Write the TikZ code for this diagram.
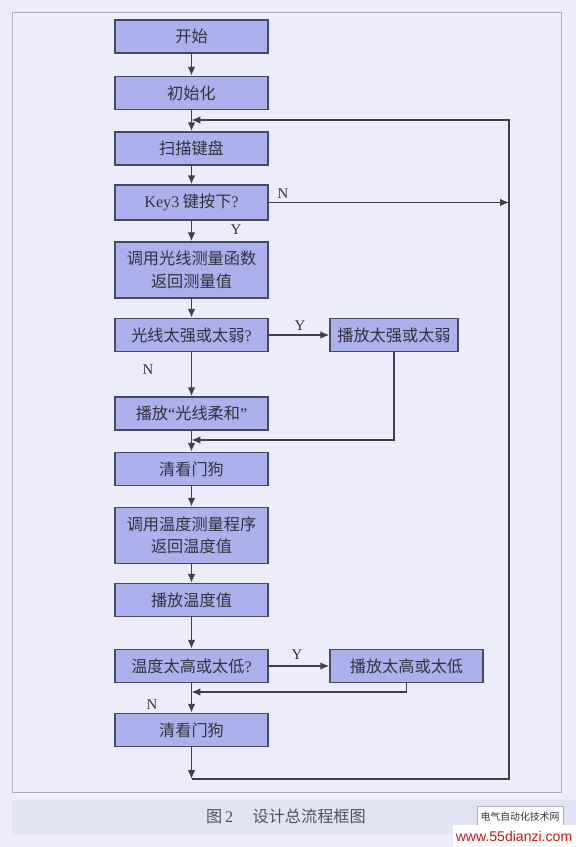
\documentclass[tikz,border=0pt]{standalone}
\usepackage{fontspec}
\setmainfont{Liberation Serif}
\newfontfamily\cjk{Noto Sans CJK SC}
\newfontfamily\websans{Liberation Sans}
\usetikzlibrary{arrows.meta,positioning}
\definecolor{pagebg}{RGB}{236,236,250}
\definecolor{bandblue}{RGB}{226,228,246}
\definecolor{boxfill}{RGB}{172,176,236}
\definecolor{boxline}{RGB}{70,72,104}
\definecolor{flowline}{RGB}{62,62,80}
\definecolor{textgray}{RGB}{50,50,60}
\definecolor{framegray}{RGB}{178,174,184}
\definecolor{markred}{RGB}{205,25,25}
\tikzset{
  procbox/.style={draw=boxline, line width=1.2pt, fill=boxfill, text=textgray,
    minimum width=3.825cm, minimum height=0.825cm, inner sep=0pt, align=center,
    font=\cjk\fontsize{11.5}{16}\selectfont},
  tallbox/.style={procbox, minimum height=1.4cm},
  flow/.style={draw=flowline, line width=1pt, -{Latex[length=2.2mm,width=1.9mm]}},
  ynlabel/.style={text=textgray, font=\fontsize{10.5}{12}\selectfont}
}

\begin{document}
\begin{tikzpicture}[x=0.025cm,y=-0.025cm]
  % Page and frame
  \fill[pagebg] (0,0) rectangle (576,847);
  \useasboundingbox (0,0) rectangle (576,847);
  \draw[framegray, line width=0.6pt] (12,12) rectangle (561,792);
  \fill[bandblue] (12,800) rectangle (576,834);

  % Main column
  \node[procbox] (start) at (191.5,36.5) {开始};
  \node[procbox] (init)  at (191.5,93)   {初始化};
  \node[procbox] (scan)  at (191.5,148.5) {扫描键盘};
  \node[procbox, minimum height=0.875cm] (key3) at (191.5,202.5) {\textrm{Key3} 键按下\textrm{?}};
  \node[tallbox] (lightmeas) at (191.5,270) {调用光线测量函数\\返回测量值};
  \node[procbox] (lightq) at (191.5,335) {光线太强或太弱\textrm{?}};
  \node[procbox] (lightok) at (191.5,413.5) {播放\textrm{“}光线柔和\textrm{”}};
  \node[procbox] (wdog1) at (191.5,469) {清看门狗};
  \node[tallbox] (tempmeas) at (191.5,535.5) {调用温度测量程序\\返回温度值};
  \node[procbox] (tempplay) at (191.5,600) {播放温度值};
  \node[procbox] (tempq) at (191.5,666) {温度太高或太低\textrm{?}};
  \node[procbox] (wdog2) at (191.5,730) {清看门狗};

  % Side boxes
  \node[procbox, minimum width=3.2cm] (lightbad) at (394,335) {播放太强或太弱};
  \node[procbox] (tempbad) at (406.5,666) {播放太高或太低};

  % Junctions
  \coordinate (joinscan) at (191.5,120);
  \coordinate (joinlight) at (191.5,440);
  \coordinate (jointemp) at (191.5,692);
  \coordinate (loopbot) at (191.5,779);
  \coordinate (loopright) at (509,779);
  \coordinate (looptop) at (509,120);

  % Arrows down the main column
  \draw[flow] (start) -- (init);
  \draw[flow] (init) -- (scan);
  \draw[flow] (scan) -- (key3);
  \draw[flow] (key3) -- (lightmeas);
  \draw[flow] (lightmeas) -- (lightq);
  \draw[flow] (lightq) -- (lightok);
  \draw[flow] (lightok) -- (wdog1);
  \draw[flow] (wdog1) -- (tempmeas);
  \draw[flow] (tempmeas) -- (tempplay);
  \draw[flow] (tempplay) -- (tempq);
  \draw[flow] (tempq) -- (wdog2);
  \draw[flow] (wdog2) -- (loopbot);

  % Branches
  \draw[flow] (lightq) -- (lightbad);
  \draw[flow] (lightbad.south) |- (joinlight);
  \draw[flow] (tempq) -- (tempbad);
  \draw[flow] (tempbad.south) |- (jointemp);
  \draw[flow] (key3.east) -- (key3.east -| looptop);
  \draw[flow] (loopbot) -- (loopright) -- (looptop) -- (joinscan);

  % Y / N labels
  \node[ynlabel] (ykey) at (236,230) {Y};
  \node[ynlabel] (nkey) at (283,194) {N};
  \node[ynlabel] (ylight) at (300,326) {Y};
  \node[ynlabel] (nlight) at (148,370) {N};
  \node[ynlabel] (ytemp) at (297,655) {Y};
  \node[ynlabel] (ntemp) at (152,705) {N};

  % Caption
  \node[text=textgray!85, font=\cjk\fontsize{11.5}{14}\selectfont] (caption) at (286,816)
    {图\,\textrm{2}\hspace{1.2em}设计总流程框图};

  % Site mark
  \draw[fill=white, draw=framegray, line width=0.4pt] (477,806) rectangle (563,826);
  \fill[white] (453,825) rectangle (576,847);
  \node[text=textgray, font=\cjk\fontsize{7}{8}\selectfont] (sitename) at (520,817) {电气自动化技术网};
  \node[text=markred, font=\websans\fontsize{10}{12}\selectfont] (siteurl) at (514,836) {www.55dianzi.com};
\end{tikzpicture}
\end{document}
